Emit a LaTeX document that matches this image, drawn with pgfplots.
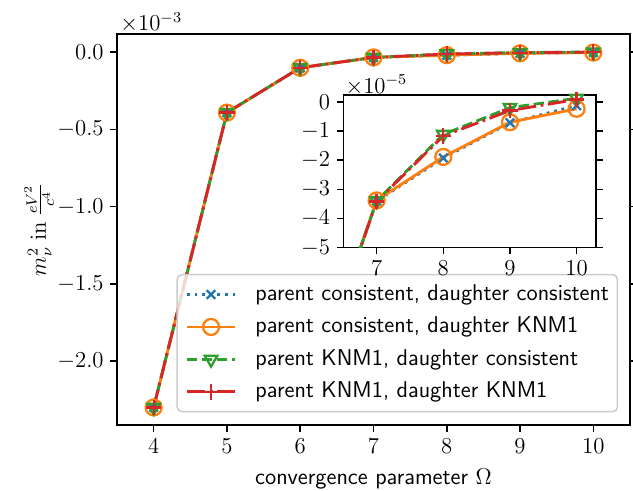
\documentclass[border=0pt]{standalone}
\usepackage{pgfplots}
\pgfplotsset{compat=1.18}
\usepackage{pgfplotstable}
\definecolor{c0}{HTML}{1F77B4}
\definecolor{c1}{HTML}{FF7F0E}
\definecolor{c2}{HTML}{2CA02C}
\definecolor{c3}{HTML}{D62728}

\pgfplotstableread{
x   cc         ck         kc         kk
4   -2.300e-3  -2.300e-3  -2.300e-3  -2.300e-3
5   -3.910e-4  -3.910e-4  -3.910e-4  -3.910e-4
6   -1.010e-4  -1.010e-4  -1.000e-4  -1.000e-4
7   -3.400e-5  -3.380e-5  -3.400e-5  -3.420e-5
8   -1.930e-5  -1.890e-5  -1.120e-5  -1.170e-5
9   -0.720e-5  -0.700e-5  -0.200e-5  -0.300e-5
10  -0.130e-5  -0.240e-5   0.120e-5   0.080e-5
}\data

\pgfplotsset{
  mystyle/.style={
    scale only axis,
    tick align=outside,
    major tick length=3.5pt,
    xtick pos=left, ytick pos=both,
    axis line style={line width=0.8pt},
    every tick/.style={line width=0.8pt, black},
  },
  s0/.style={c0, line width=1.5pt, dash pattern=on 1.5pt off 2.5pt, mark=x, mark size=3.2pt, mark options={solid, line width=1.2pt}},
  s1/.style={c1, line width=1.5pt, solid, mark=o, mark size=4.2pt, mark options={solid, line width=1.2pt}},
  s2/.style={c2, line width=1.5pt, dash pattern=on 5.5pt off 2.4pt, mark=triangle, mark size=3.8pt, mark options={solid, rotate=180, line width=1.2pt}},
  s3/.style={c3, line width=1.5pt, dash pattern=on 9.6pt off 2.4pt on 1.5pt off 2.4pt, mark=+, mark size=4pt, mark options={solid, line width=1.2pt}},
}

\begin{document}
\begin{tikzpicture}[font=\fontsize{12}{14.4}\selectfont]
\useasboundingbox (-61.6pt,-34.2pt) rectangle (271.6pt,223.8pt);
\begin{axis}[mystyle, name=main,
  width=270pt, height=205.8pt,
  xmin=3.5, xmax=10.5, ymin=-2.4145, ymax=0.1166,
  xtick={4,5,6,7,8,9,10},
  ytick={-2,-1.5,-1,-0.5,0},
  yticklabel style={/pgf/number format/.cd, fixed, fixed zerofill, precision=1},
  xlabel={\sffamily convergence parameter $\Omega$},
  ylabel={$m_\nu^2\;\mathrm{in}\;\frac{eV^2}{c^4}$},
  x label style={at={(axis description cs:0.5,-0.138)}, anchor=center},
  y label style={at={(axis description cs:-0.152,0.5)}, anchor=center, rotate=0},
  legend cell align=left,
  legend style={at={(1,0)}, anchor=south east, xshift=-6.2pt, yshift=6.7pt,
    draw=black!20, fill=white, fill opacity=0.8, text opacity=1, draw opacity=1,
    rounded corners=2.5pt, line width=0.8pt,
    inner xsep=4.4pt, inner ysep=5pt,
    column sep=10pt, row sep=6.3pt,
    font=\fontsize{12}{14.4}\selectfont\sffamily,
    nodes={inner sep=0pt, text height=8.4pt, text depth=2.4pt}},
  legend image code/.code={
    \draw[mark repeat=2, mark phase=2] plot coordinates {(0pt,0pt) (12.65pt,0pt) (25.3pt,0pt)};
  },
]
\addplot[s0] table[x=x, y expr=\thisrow{cc}*1000]{\data};
\addplot[s1] table[x=x, y expr=\thisrow{ck}*1000]{\data};
\addplot[s2] table[x=x, y expr=\thisrow{kc}*1000]{\data};
\addplot[s3] table[x=x, y expr=\thisrow{kk}*1000]{\data};
\legend{{parent consistent, daughter consistent}, {parent consistent, daughter KNM1}, {parent KNM1, daughter consistent}, {parent KNM1, daughter KNM1}}
\end{axis}
\node[anchor=west, inner sep=0pt] at ([xshift=1.6pt, yshift=6.3pt]main.north west) {$\times10^{-3}$};

\begin{axis}[mystyle, name=inset, at={(119.1pt,93.4pt)}, anchor=south west,
  width=133pt, height=80.3pt,
  xmin=6.5, xmax=10.29, ymin=-5, ymax=0.23,
  xtick={7,8,9,10}, ytick={-5,-4,-3,-2,-1,0},
  axis background/.style={fill=white},
]
\addplot[s0] table[x=x, y expr=\thisrow{cc}*100000]{\data};
\addplot[s1] table[x=x, y expr=\thisrow{ck}*100000]{\data};
\addplot[s2] table[x=x, y expr=\thisrow{kc}*100000]{\data};
\addplot[s3] table[x=x, y expr=\thisrow{kk}*100000]{\data};
\end{axis}
\node[anchor=west, inner sep=0pt] at ([xshift=1pt, yshift=5.3pt]inset.north west) {$\times10^{-5}$};
\end{tikzpicture}
\end{document}
